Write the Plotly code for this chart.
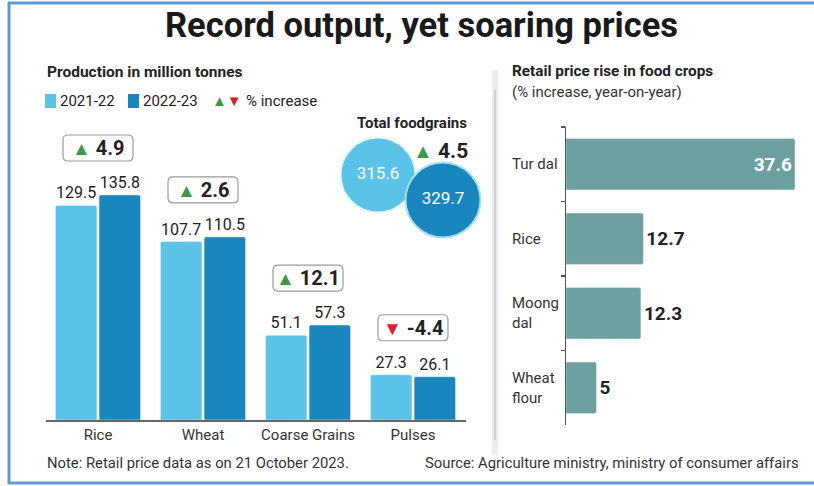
import plotly.graph_objects as go

# ---------------- data ----------------
crops = ["Rice", "Wheat", "Coarse Grains", "Pulses"]
prod_2122 = [129.5, 107.7, 51.1, 27.3]
prod_2223 = [135.8, 110.5, 57.3, 26.1]
pct_increase = [4.9, 2.6, 12.1, -4.4]
season_labels = ["2021-22", "2022-23"]
total_foodgrains = [315.6, 329.7]
total_increase = 4.5
retail_items = ["Tur dal", "Rice", "Moong dal", "Wheat flour"]
retail_labels = ["Tur dal", "Rice", "Moong<br>dal", "Wheat<br>flour"]
retail_rise = [37.6, 12.7, 12.3, 5]

# ---------------- style ----------------
W, H = 814, 486
FONT = "Roboto, sans-serif"
LIGHT = "#5cc3e8"
DARK = "#1a86be"
TEAL = "#6b9fa0"
GREEN = "#3a9a48"
RED = "#d7222c"
TXT = "#222222"


def px(x):
    return x / W


def py(y):
    return 1 - y / H


fig = go.Figure()

# left chart bars
fig.add_trace(go.Bar(
    x=crops, y=prod_2122, name=season_labels[0], marker_color=LIGHT,
    text=[f"{v}" for v in prod_2122], textposition="outside",
    textfont=dict(size=16, color=TXT, family=FONT), cliponaxis=False,
    xaxis="x", yaxis="y", showlegend=False, constraintext="none"))
fig.add_trace(go.Bar(
    x=crops, y=prod_2223, name=season_labels[1], marker_color=DARK,
    text=[f"{v}" for v in prod_2223], textposition="outside",
    textfont=dict(size=16, color=TXT, family=FONT), cliponaxis=False,
    xaxis="x", yaxis="y", showlegend=False, constraintext="none"))

# right chart bars
fig.add_trace(go.Bar(
    y=retail_items, x=retail_rise, orientation="h", marker_color=TEAL,
    width=0.69, text=[f"{v}" for v in retail_rise],
    textposition=["inside", "outside", "outside", "outside"],
    insidetextanchor="end",
    insidetextfont=dict(size=19, color="white", family=FONT, weight="bold"),
    outsidetextfont=dict(size=19, color=TXT, family=FONT, weight="bold"),
    constraintext="none", cliponaxis=False,
    xaxis="x2", yaxis="y2", showlegend=False))

# total foodgrains circles
fig.add_trace(go.Scatter(
    x=season_labels, y=total_foodgrains, mode="markers+text",
    marker=dict(size=75, color=[LIGHT, DARK],
                line=dict(color=["#e6f6fc", "#a9def2"], width=2)),
    text=[f"{v}" for v in total_foodgrains], textposition="middle center",
    textfont=dict(size=17, color="white", family=FONT),
    cliponaxis=False, xaxis="x3", yaxis="y3", showlegend=False,
    hoverinfo="skip"))

shapes = []
annotations = []

# percent boxes above each crop group
for c, a, b, p in zip(crops, prod_2122, prod_2223, pct_increase):
    top = max(a, b)
    r = 5
    x0, x1, y0, y1 = -35, 35, 34, 60
    path = (f"M {x0+r},{y0} L {x1-r},{y0} Q {x1},{y0} {x1},{y0+r} "
            f"L {x1},{y1-r} Q {x1},{y1} {x1-r},{y1} L {x0+r},{y1} "
            f"Q {x0},{y1} {x0},{y1-r} L {x0},{y0+r} Q {x0},{y0} {x0+r},{y0} Z")
    shapes.append(dict(type="path", xref="x", yref="y", xsizemode="pixel",
                       ysizemode="pixel", xanchor=c, yanchor=top, path=path,
                       line=dict(color="#9a9a9a", width=1.2),
                       fillcolor="white", layer="above"))
    tri = f"<span style='color:{GREEN}'>▲</span>" if p >= 0 else \
        f"<span style='color:{RED}'>▼</span>"
    annotations.append(dict(
        x=c, y=top, xref="x", yref="y", yshift=47, showarrow=False,
        text=f"<span style='font-size:19px'>{tri}</span> <b>{p}</b>",
        font=dict(size=20, color=TXT, family=FONT)))

# right-chart category labels (left aligned)
for item, lab in zip(retail_items, retail_labels):
    annotations.append(dict(
        x=px(510), y=item, xref="paper", yref="y2", xanchor="left",
        align="left", showarrow=False, text=lab,
        font=dict(size=15, color="#333333", family=FONT)))

# borders & divider
BLUE = "#5b9bd5"
shapes += [
    dict(type="line", xref="paper", yref="paper", x0=px(9), x1=px(9),
         y0=py(2), y1=py(484), line=dict(color=BLUE, width=3)),
    dict(type="line", xref="paper", yref="paper", x0=px(8), x1=1,
         y0=py(3), y1=py(3), line=dict(color=BLUE, width=3)),
    dict(type="line", xref="paper", yref="paper", x0=px(8), x1=1,
         y0=py(483), y1=py(483), line=dict(color=BLUE, width=3)),
    dict(type="line", xref="paper", yref="paper", x0=px(495), x1=px(495),
         y0=py(70), y1=py(455), line=dict(color="#ececec", width=6)),
    dict(type="line", xref="paper", yref="paper", x0=px(495), x1=px(495),
         y0=py(90), y1=py(440), line=dict(color="#cfcfcf", width=2)),
]

# legend
shapes += [
    dict(type="rect", xref="paper", yref="paper", x0=px(45), x1=px(56),
         y0=py(108), y1=py(94), fillcolor=LIGHT, line=dict(width=0)),
    dict(type="rect", xref="paper", yref="paper", x0=px(128), x1=px(139),
         y0=py(108), y1=py(94), fillcolor=DARK, line=dict(width=0)),
]


def ann(x, y, text, size, anchor="left", color=TXT, **kw):
    annotations.append(dict(x=px(x), y=py(y), xref="paper", yref="paper",
                            xanchor=anchor, yanchor="middle", showarrow=False,
                            text=text, font=dict(size=size, color=color,
                                                 family=FONT), **kw))


ann(58, 101, season_labels[0], 15)
ann(141, 101, season_labels[1], 15)
ann(210, 101, f"<span style='color:{GREEN}'>▲</span><span style='color:{RED}'>▼</span>", 15)
ann(244, 101, "% increase", 15)

ann(421, 25, "<b>Record output, yet soaring prices</b>", 34.5, anchor="center",
    color="#1a1a1a")
ann(45, 72, "<b>Production in million tonnes</b>", 15.5)
ann(510, 71, "<b>Retail price rise in food crops</b>", 15.3)
ann(510, 92, "(% increase, year-on-year)", 15, color="#333333")
ann(412, 123, "<b>Total foodgrains</b>", 15, anchor="center")
ann(441, 151, f"<span style='color:{GREEN};font-size:20px'>▲</span> <b>{total_increase}</b>",
    21, anchor="center")
ann(45, 463, "Note: Retail price data as on 21 October 2023.", 14.8,
    color="#333333")
ann(801, 463, "Source: Agriculture ministry, ministry of consumer affairs",
    14.8, anchor="right", color="#333333")

# axis geometry (pixels -> paper)
left_scale = 1.657  # px per million tonnes
y_top_val = 180
y3_scale = 25 / (total_foodgrains[1] - total_foodgrains[0])
r_scale = 6.09

fig.update_layout(
    width=W, height=H, margin=dict(l=0, r=0, t=0, b=0),
    paper_bgcolor="white", plot_bgcolor="rgba(0,0,0,0)",
    barmode="group", bargap=0.17, bargroupgap=0.05, barcornerradius=2,
    font=dict(family=FONT, color=TXT),
    shapes=shapes, annotations=annotations,
    xaxis=dict(domain=[px(45.5), px(465.5)], showgrid=False, zeroline=False,
               showline=True, linecolor="#666666", linewidth=2, ticks="",
               tickfont=dict(size=15, color="#333333", family=FONT),
               fixedrange=True),
    yaxis=dict(domain=[py(420), py(420 - y_top_val * left_scale)],
               range=[0, y_top_val], visible=False, fixedrange=True),
    xaxis2=dict(domain=[px(566), px(808)], range=[0, (808 - 566) / r_scale],
                visible=False, anchor="y2", fixedrange=True),
    yaxis2=dict(domain=[py(425), py(127)], anchor="x2", range=[3.5, -0.5],
                showline=True, linecolor="#555555", linewidth=1.5,
                ticks="outside", tickson="boundaries", ticklen=4,
                tickcolor="#555555", tickwidth=1.5, showticklabels=False,
                showgrid=False, zeroline=False, fixedrange=True),
    xaxis3=dict(domain=[px(345.5), px(475.5)], visible=False, anchor="y3",
                range=[-0.5, 1.5], fixedrange=True),
    yaxis3=dict(domain=[py(225), py(150)], anchor="x3", visible=False,
                range=[total_foodgrains[1] + 25 / y3_scale,
                       total_foodgrains[0] - 25 / y3_scale],
                fixedrange=True),
)

fig.write_html("out.html",
               config={"displayModeBar": False, "staticPlot": True},
               post_script="document.body.style.margin='0';"
                           "document.body.style.overflow='hidden';")
